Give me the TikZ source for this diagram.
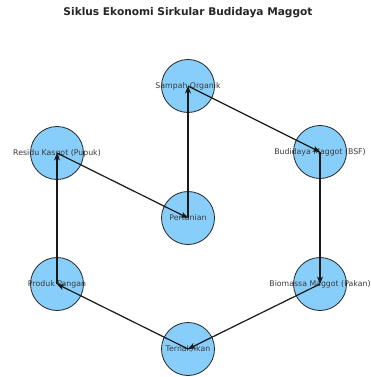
\documentclass[tikz,border=0pt]{standalone}
\usepackage{fontspec}
\setmainfont{DejaVu Sans}
\usetikzlibrary{arrows.meta}
\definecolor{nodefill}{HTML}{87CEFA}
\definecolor{labelgray}{HTML}{3A3A3A}
\tikzset{
  cyclenode/.style={circle, draw=black!85, line width=0.8pt, fill=nodefill,
    minimum size=53pt, inner sep=0pt},
  cyclelabel/.style={text=labelgray, font=\fontsize{7.8}{9}\selectfont, inner sep=0pt},
  flow/.style={line width=1.2pt, black!90, -{Stealth[length=7.5pt,width=6pt]}}
}
\begin{document}
\begin{tikzpicture}[x=1pt,y=-1pt]
  \useasboundingbox (0,0) rectangle (371,377);
  \fill[white] (0,0) rectangle (371,377);

  % title
  \node[font=\bfseries\fontsize{10.6}{12}\selectfont, text=black!85] (title) at (188,13)
    {Siklus Ekonomi Sirkular Budidaya Maggot};

  % cycle stages
  \node[cyclenode] (sampah)    at (188,86)  {};
  \node[cyclenode] (bsf)       at (320,152) {};
  \node[cyclenode] (biomassa)  at (320,284) {};
  \node[cyclenode] (ternak)    at (188,349) {};
  \node[cyclenode] (produk)    at (57,284)  {};
  \node[cyclenode] (residu)    at (57,153)  {};
  \node[cyclenode] (pertanian) at (188,218) {};

  % stage names
  \node[cyclelabel] (lsampah)    at (sampah)    {Sampah Organik};
  \node[cyclelabel] (lbsf)       at (bsf)       {Budidaya Maggot (BSF)};
  \node[cyclelabel] (lbiomassa)  at (biomassa)  {Biomassa Maggot (Pakan)};
  \node[cyclelabel] (lternak)    at (ternak)    {Ternak/Ikan};
  \node[cyclelabel] (lproduk)    at (produk)    {Produk Pangan};
  \node[cyclelabel] (lresidu)    at (residu)    {Residu Kasgot (Pupuk)};
  \node[cyclelabel] (lpertanian) at (pertanian) {Pertanian};

  % material flows, centre to centre
  \draw[flow] (sampah.center)    -- (bsf.center);
  \draw[flow] (bsf.center)       -- (biomassa.center);
  \draw[flow] (biomassa.center)  -- (ternak.center);
  \draw[flow] (ternak.center)    -- (produk.center);
  \draw[flow] (produk.center)    -- (residu.center);
  \draw[flow] (residu.center)    -- (pertanian.center);
  \draw[flow] (pertanian.center) -- (sampah.center);
\end{tikzpicture}
\end{document}
